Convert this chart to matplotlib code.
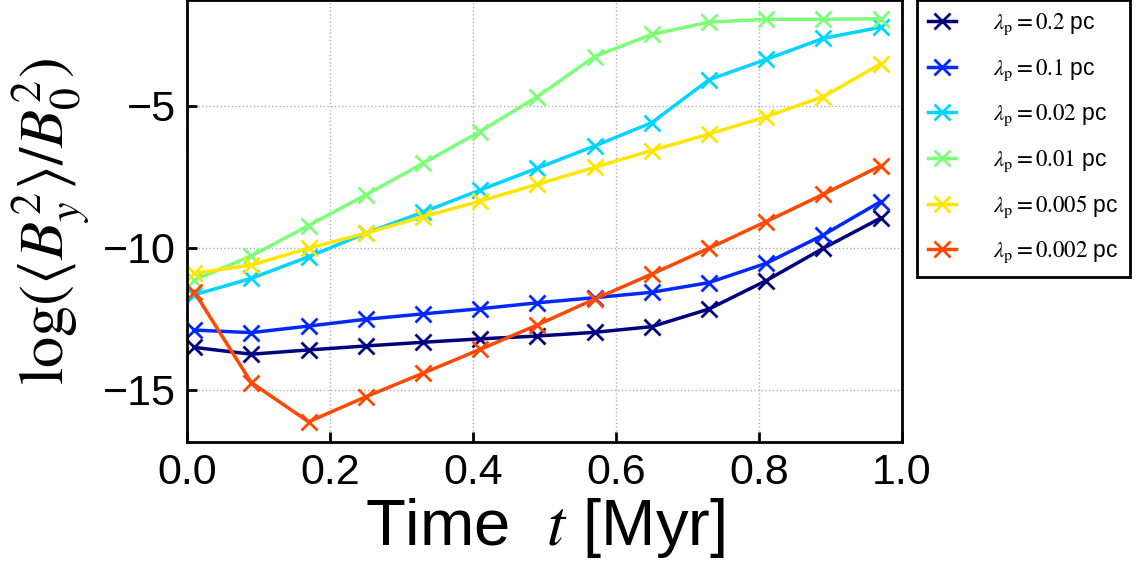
import numpy as np
import matplotlib
matplotlib.use("Agg")
import matplotlib.pyplot as plt

plt.rcParams['mathtext.fontset'] = 'stix'
plt.rcParams['font.family'] = ['Liberation Sans', 'DejaVu Sans']

time = [0.01, 0.09, 0.17, 0.25, 0.33, 0.41, 0.49, 0.57, 0.65, 0.73, 0.81, 0.89, 0.97]

lam_02 = [-13.50, -13.74, -13.59, -13.45, -13.32, -13.20, -13.10, -12.97, -12.77, -12.15, -11.15, -10.01, -8.95]
lam_01 = [-12.89, -12.98, -12.75, -12.51, -12.32, -12.14, -11.93, -11.75, -11.56, -11.22, -10.54, -9.54, -8.37]
lam_002 = [-11.65, -11.07, -10.31, -9.48, -8.74, -7.96, -7.19, -6.41, -5.59, -4.08, -3.36, -2.62, -2.23]
lam_001 = [-11.13, -10.28, -9.21, -8.13, -7.02, -5.90, -4.67, -3.26, -2.48, -2.05, -1.95, -1.95, -1.93]
lam_0005 = [-10.89, -10.60, -10.01, -9.48, -8.90, -8.35, -7.76, -7.16, -6.57, -5.99, -5.38, -4.67, -3.52]
lam_0002 = [-11.54, -14.74, -16.12, -15.24, -14.41, -13.57, -12.71, -11.80, -10.92, -10.01, -9.07, -8.11, -7.11]

series = [lam_02, lam_01, lam_002, lam_001, lam_0005, lam_0002]
labels = [r"$\lambda_{\rm p}=0.2$ pc", r"$\lambda_{\rm p}=0.1$ pc", r"$\lambda_{\rm p}=0.02$ pc",
          r"$\lambda_{\rm p}=0.01$ pc", r"$\lambda_{\rm p}=0.005$ pc", r"$\lambda_{\rm p}=0.002$ pc"]
colors = ['#00007f', '#0028ff', '#00d4ff', '#7dff7a', '#ffe600', '#ff4800']

fig = plt.figure(figsize=(11.36, 5.67), dpi=100)
ax = fig.add_axes([0.1646, 0.2205, 0.6294, 0.7795])

for y, lab, c in zip(series, labels, colors):
    ax.plot(time, y, color=c, lw=2.5, marker='x', ms=11, mew=2, label=lab)

ax.set_xlim(0, 1)
ax.set_ylim(-16.83, -1.27)
ax.set_xticks([0.0, 0.2, 0.4, 0.6, 0.8, 1.0])
ax.set_yticks([-15, -10, -5])
ax.tick_params(direction='in', labelsize=31, width=2, length=7, pad=8)
for s in ax.spines.values():
    s.set_linewidth(2)
ax.grid(True, ls=':', color='#b0b0b0', lw=1)

ax.set_xlabel(r"Time  $t$ [Myr]", fontsize=47, labelpad=2)
ax.set_ylabel(r"$\log(\langle B_y^2\rangle/B_0^2)$", fontsize=45, labelpad=8)

leg = fig.legend(loc='upper left', bbox_to_anchor=(917/1136, 1.0), fontsize=16.5,
                 frameon=True, fancybox=False, edgecolor='black', framealpha=1,
                 borderpad=0.5, borderaxespad=0, labelspacing=0.85,
                 handlelength=1.2, handletextpad=1.6)
leg.get_frame().set_linewidth(2)

fig.savefig("out.png", dpi=100)
